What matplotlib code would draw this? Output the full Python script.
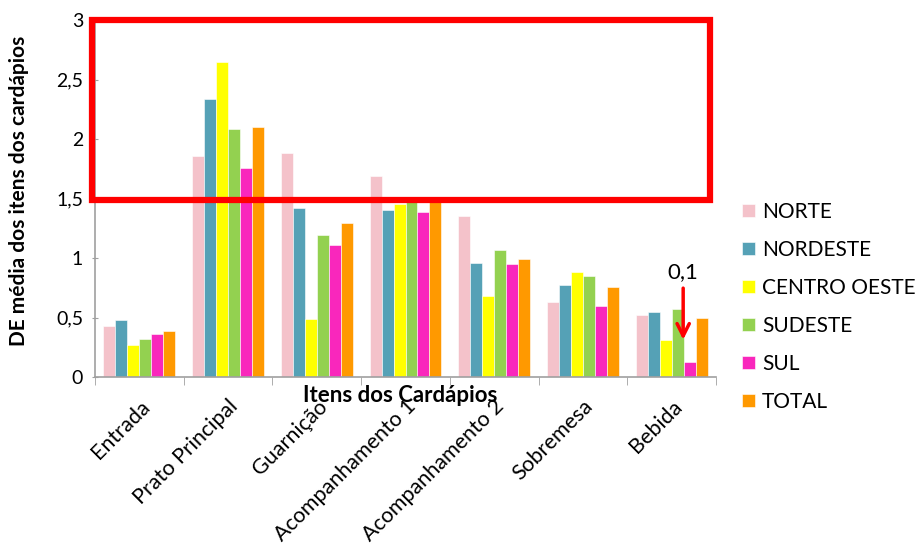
import matplotlib.pyplot as plt
import numpy as np
from matplotlib.patches import Rectangle

plt.rcParams['font.family'] = ['Lato', 'DejaVu Sans']

itens = ['Entrada', 'Prato Principal', 'Guarnição', 'Acompanhamento 1',
         'Acompanhamento 2', 'Sobremesa', 'Bebida']

norte = [0.43, 1.86, 1.88, 1.69, 1.35, 0.63, 0.52]
nordeste = [0.48, 2.34, 1.42, 1.40, 0.96, 0.77, 0.55]
centro_oeste = [0.27, 2.65, 0.49, 1.45, 0.68, 0.88, 0.31]
sudeste = [0.32, 2.08, 1.19, 1.49, 1.07, 0.85, 0.57]
sul = [0.36, 1.76, 1.11, 1.39, 0.95, 0.60, 0.13]
total = [0.39, 2.10, 1.29, 1.47, 0.99, 0.76, 0.50]

series = [
    ('NORTE', norte, '#F4C2CA'),
    ('NORDESTE', nordeste, '#55A1B6'),
    ('CENTRO OESTE', centro_oeste, '#FFFF00'),
    ('SUDESTE', sudeste, '#93D150'),
    ('SUL', sul, '#F927BC'),
    ('TOTAL', total, '#FF9900'),
]

fig = plt.figure(figsize=(9.22, 5.5), dpi=100)
ax = fig.add_axes([95 / 922, 1 - 377 / 550, (716 - 95) / 922, (377 - 20) / 550])

x = np.arange(len(itens))
w = 0.135
for i, (nome, vals, cor) in enumerate(series):
    ax.bar(x + (i - 2.5) * w, vals, w, color=cor, label=nome,
           edgecolor='white', linewidth=0.4)

ax.set_xlim(-0.5, len(itens) - 0.5)
ax.set_ylim(0, 3)
ax.set_yticks([0, 0.5, 1, 1.5, 2, 2.5, 3])
ax.set_yticklabels(['0', '0,5', '1', '1,5', '2', '2,5', '3'], fontsize=14)

ax.set_xticks(x)
ax.set_xticklabels(itens, rotation=45, ha='right', rotation_mode='anchor',
                   fontsize=15.5)
ax.tick_params(axis='x', length=0, pad=14)
ax.set_xticks(np.arange(-0.5, len(itens)), minor=True)
ax.tick_params(axis='x', which='minor', length=6, color='#A0A0A0', direction='out')
ax.tick_params(axis='y', length=5, color='#A0A0A0', direction='inout', pad=6)

for s in ['top', 'right']:
    ax.spines[s].set_visible(False)
for s in ['left', 'bottom']:
    ax.spines[s].set_color('#A0A0A0')
    ax.spines[s].set_linewidth(1.2)

ax.set_ylabel('DE média dos itens dos cardápios', fontsize=15, fontweight='bold')
ax.yaxis.set_label_coords(-0.106, 0.52)
fig.text(400 / 922, 1 - 396 / 550, 'Itens dos Cardápios', fontsize=16,
         fontweight='bold', ha='center', va='center')

# destaque vermelho
rect = Rectangle((-0.53, 1.49), 6.96, 1.51, fill=False, edgecolor='#FF0000',
                 linewidth=4.5, clip_on=False, zorder=5)
ax.add_patch(rect)

ax.annotate('', xy=(6.13, 0.29), xytext=(6.13, 0.77),
            arrowprops=dict(arrowstyle='->', color='#FF0000', lw=2.5,
                            mutation_scale=22), zorder=6)
ax.text(6.13, 0.88, '0,1', fontsize=16, ha='center', va='center')

fig.legend(loc='upper left', bbox_to_anchor=(742 / 922, 1 - 202 / 550),
           frameon=False, fontsize=15, handlelength=0.6, handleheight=0.6,
           handletextpad=0.35, labelspacing=0.86, borderaxespad=0, borderpad=0)

plt.savefig('out.png', dpi=100)
